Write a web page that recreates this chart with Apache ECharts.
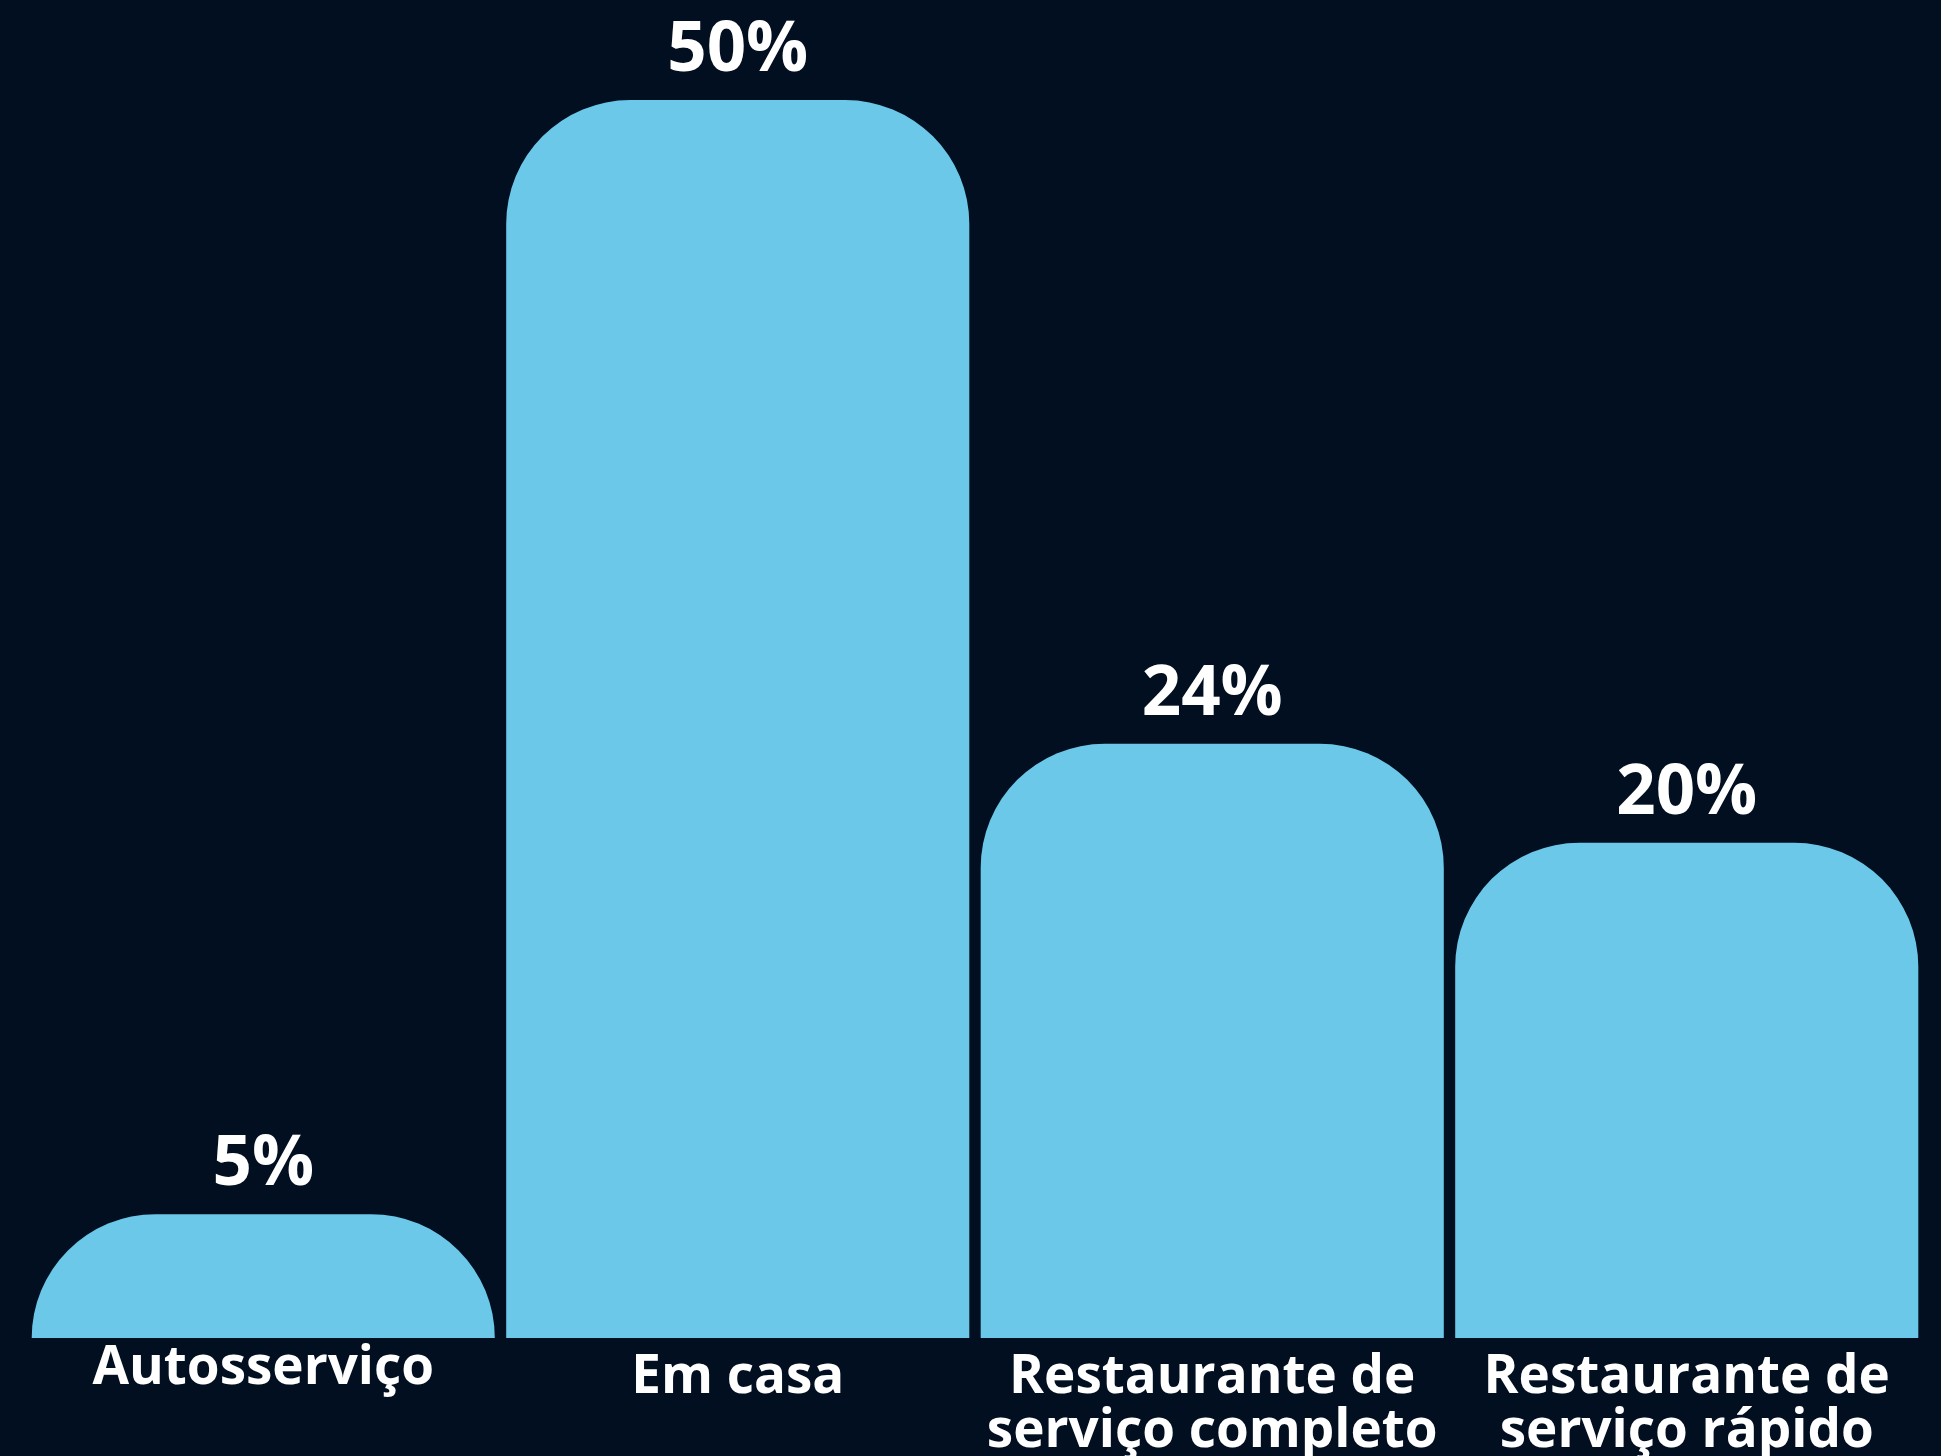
<!DOCTYPE html>
<html>
<head>
<meta charset="utf-8">
<script src="https://cdn.jsdelivr.net/npm/echarts@6/dist/echarts.min.js"></script>
<style>
  html, body { margin: 0; padding: 0; background: #020f20; }
  #chart { width: 1941px; height: 1456px; }
</style>
</head>
<body>
<div id="chart"></div>
<script>
// 类别和数值
const categories = ['Autosserviço', 'Em casa', 'Restaurante de serviço completo', 'Restaurante de serviço rápido'];
const values = [5, 50, 24, 20];

const chart = echarts.init(document.getElementById('chart'));

// 第一个标签在原图中略高，其余标签下移一点
const axisData = categories.map((name, i) => ({
  value: name,
  textStyle: i === 0 ? { lineHeight: 50 } : { padding: [7, 0, 0, 0] }
}));

const option = {
  backgroundColor: '#020f20',
  grid: { left: 26, right: 17, top: 100, bottom: 118, outerBoundsMode: 'none' },
  xAxis: {
    type: 'category',
    data: axisData,
    axisLine: { show: false },
    axisTick: { show: false },
    axisLabel: {
      interval: 0,
      color: '#ffffff',
      fontFamily: 'Open Sans',
      fontWeight: 'bold',
      fontSize: 53,
      lineHeight: 54,
      margin: 6,
      formatter: (name) => name.replace(' de ', ' de\n')
    }
  },
  yAxis: {
    type: 'value',
    min: 0,
    max: 50,
    show: false
  },
  series: [
    {
      type: 'bar',
      data: values,
      barCategoryGap: '2.4%',
      itemStyle: {
        color: '#6bc8e9',
        borderRadius: [124, 124, 0, 0]
      },
      label: {
        show: true,
        position: 'top',
        distance: 14,
        color: '#ffffff',
        fontFamily: 'Open Sans',
        fontWeight: 'bold',
        fontSize: 69,
        formatter: '{c}%'
      }
    }
  ]
};

chart.setOption(option);
</script>
</body>
</html>
